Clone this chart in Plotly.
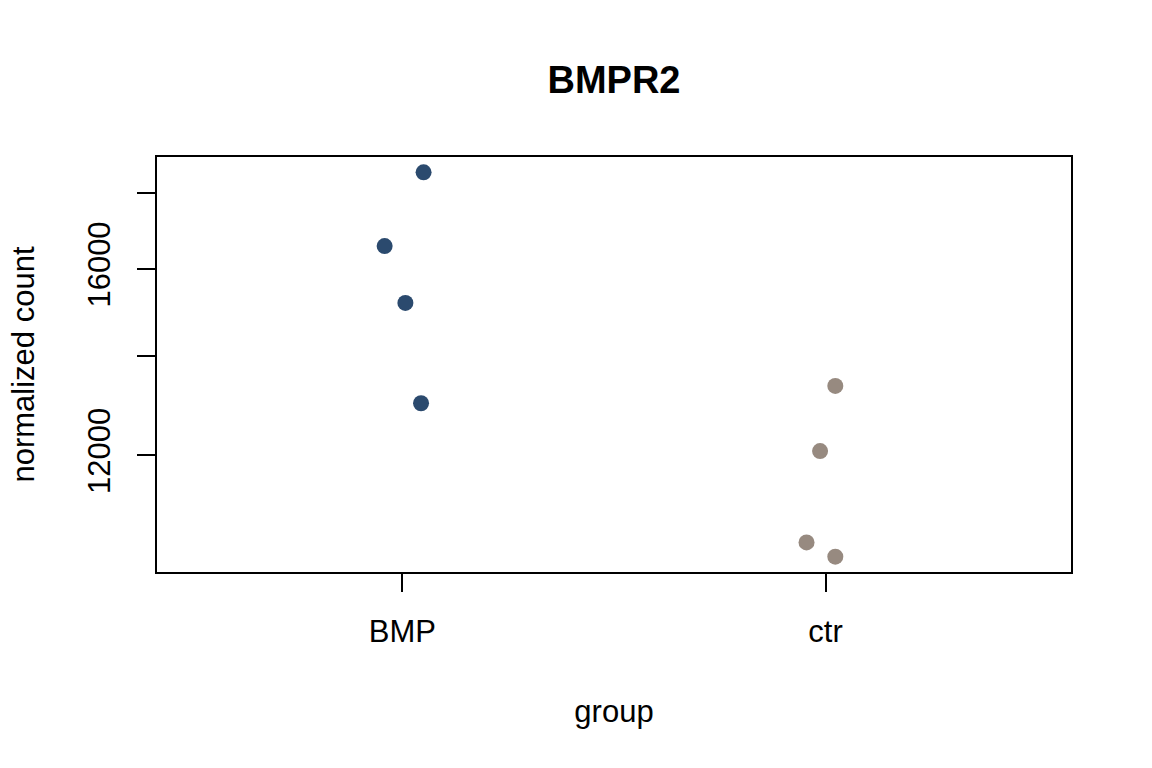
import numpy as np
import plotly.graph_objects as go

groups = ["BMP", "ctr"]
bmp_values = [18578, 16580, 15186, 13008]
bmp_jitter = [0.050, -0.042, 0.007, 0.044]
ctr_values = [13361, 12081, 10492, 10265]
ctr_jitter = [0.023, -0.013, -0.045, 0.023]
y_tick_vals = [12000, 14000, 16000, 18000]
y_tick_text = ["12000", "", "16000", ""]
colors = {"BMP": "#2B4A6E", "ctr": "#978A80"}

FONT = "Liberation Sans, Arial, Helvetica, sans-serif"

fig = go.Figure()
for i, (g, vals, jit) in enumerate([("BMP", bmp_values, bmp_jitter), ("ctr", ctr_values, ctr_jitter)]):
    xs = [i + 1 + j for j in jit]
    fig.add_trace(go.Scatter(
        x=xs, y=vals, mode="markers", name=g,
        marker=dict(size=16, color=colors[g], line=dict(width=0)),
        showlegend=False,
    ))

allv = np.log10(bmp_values + ctr_values)
lo, hi = allv.min(), allv.max()
pad = (hi - lo) * 0.04
yrange = [lo - pad, hi + pad]
xrange = [0.5 - 0.08, 2.5 + 0.08]

fig.update_layout(
    width=1152, height=768,
    margin=dict(l=157, r=81, t=157, b=196),
    paper_bgcolor="white", plot_bgcolor="white",
    font=dict(family=FONT, size=31, color="black"),
    title=dict(text="<b>BMPR2</b>", x=(157 + 1071) / 2 / 1152, xanchor="center",
               y=1 - 80 / 768, yanchor="middle", font=dict(size=38, family=FONT)),
    xaxis=dict(
        range=xrange, tickvals=[1, 2], ticktext=groups,
        showline=True, linecolor="black", linewidth=1.6, mirror=True,
        ticks="outside", ticklen=18, tickwidth=1.6, tickcolor="black",
        showgrid=False, zeroline=False, ticklabelstandoff=13,
        title=dict(text="group", standoff=52, font=dict(size=31)),
    ),
    yaxis=dict(
        type="log", range=yrange, tickvals=y_tick_vals, ticktext=y_tick_text,
        showline=True, linecolor="black", linewidth=1.6, mirror=True,
        ticks="outside", ticklen=18, tickwidth=1.6, tickcolor="black",
        showgrid=False, zeroline=False, tickangle=-90, ticklabelstandoff=15,
        title=dict(text="normalized count", standoff=38, font=dict(size=31)),
    ),
)

fig.write_html("out.html")
